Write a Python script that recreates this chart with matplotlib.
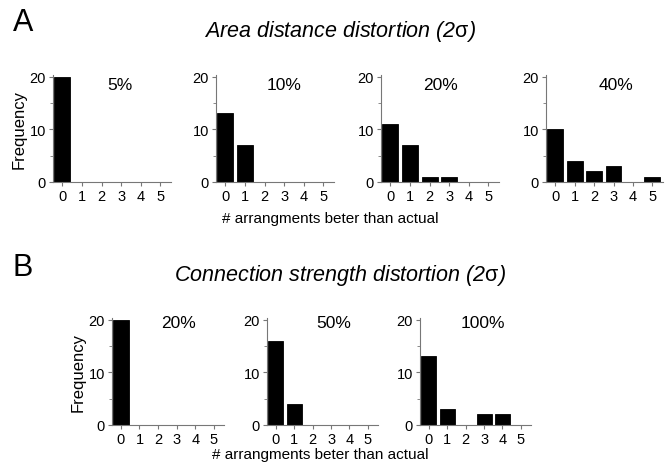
import matplotlib
matplotlib.use("Agg")
import matplotlib.pyplot as plt
from matplotlib.ticker import MultipleLocator

plt.rcParams['font.family'] = ['Liberation Sans', 'DejaVu Sans']
plt.rcParams['mathtext.fontset'] = 'custom'
plt.rcParams['mathtext.rm'] = 'Liberation Sans'

bins = [0, 1, 2, 3, 4, 5]

area_labels = ['5%', '10%', '20%', '40%']
area_5 = [20, 0, 0, 0, 0, 0]
area_10 = [13, 7, 0, 0, 0, 0]
area_20 = [11, 7, 1, 1, 0, 0]
area_40 = [10, 4, 2, 3, 0, 1]

conn_labels = ['20%', '50%', '100%']
conn_20 = [20, 0, 0, 0, 0, 0]
conn_50 = [16, 4, 0, 0, 0, 0]
conn_100 = [13, 3, 0, 2, 2, 0]

W, H = 665, 464
fig = plt.figure(figsize=(W / 100, H / 100), dpi=100)

def box(x0, x1, ytop, ybot):
    return [x0 / W, 1 - ybot / H, (x1 - x0) / W, (ybot - ytop) / H]

def hist(rect, counts, label, lab_x, lab_y, ylabel=False):
    ax = fig.add_axes(rect)
    ax.bar(bins, counts, width=0.82, color='black', edgecolor='black', linewidth=0.6)
    ax.set_xlim(-0.48, 5.55)
    ax.set_ylim(0, 20.3)
    ax.set_yticks([0, 10, 20])
    ax.yaxis.set_minor_locator(MultipleLocator(5))
    ax.set_xticks(bins)
    for s in ['top', 'right']:
        ax.spines[s].set_visible(False)
    for s in ['left', 'bottom']:
        ax.spines[s].set_color('#777777')
        ax.spines[s].set_linewidth(0.8)
    ax.tick_params(axis='both', which='both', color='#777777', labelsize=10.5, pad=2)
    ax.tick_params(axis='x', length=3)
    ax.tick_params(axis='y', which='major', length=3)
    ax.tick_params(axis='y', which='minor', length=2)
    fig.text(lab_x / W, 1 - lab_y / H, label, ha='center', va='center', fontsize=12.5)
    if ylabel:
        ax.set_ylabel('Frequency', fontsize=12, labelpad=2)
    return ax

area = [area_5, area_10, area_20, area_40]
area_x = [(53, 171), (216, 334), (381, 499), (546, 663)]
area_lab_x = [120, 284, 440, 616]
for i in range(4):
    x0, x1 = area_x[i]
    hist(box(x0, x1, 76, 183), area[i], area_labels[i], area_lab_x[i], 86, ylabel=(i == 0))

conn = [conn_20, conn_50, conn_100]
conn_x = [(112, 224), (267, 378), (420, 531)]
conn_lab_x = [179, 334, 483]
for i in range(3):
    x0, x1 = conn_x[i]
    hist(box(x0, x1, 319, 426), conn[i], conn_labels[i], conn_lab_x[i], 324, ylabel=(i == 0))

fig.text(330 / W, 1 - 219 / H, '# arrangments beter than actual', ha='center', va='center', fontsize=11)
fig.text(320 / W, 1 - 455 / H, '# arrangments beter than actual', ha='center', va='center', fontsize=11)

fig.text(340 / W, 1 - 32 / H, r'Area distance distortion (2$\mathrm{\sigma}$)', ha='center', va='center',
         fontsize=15.5, style='italic')
fig.text(340 / W, 1 - 276 / H, r'Connection strength distortion (2$\mathrm{\sigma}$)', ha='center', va='center',
         fontsize=15.5, style='italic')
fig.text(23 / W, 1 - 23 / H, 'A', ha='center', va='center', fontsize=22)
fig.text(23 / W, 1 - 268 / H, 'B', ha='center', va='center', fontsize=22)

fig.savefig('out.png', dpi=100)
